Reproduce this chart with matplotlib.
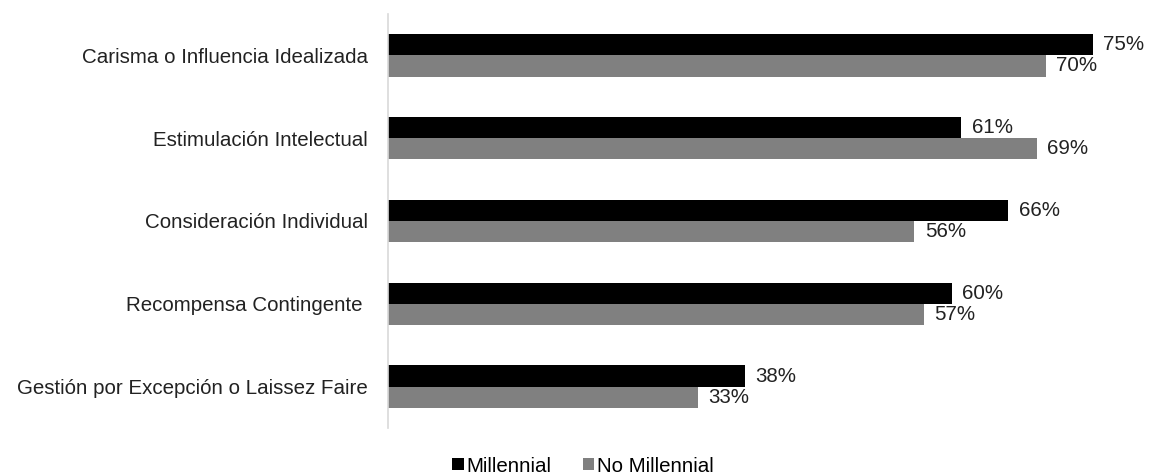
import matplotlib.pyplot as plt
import numpy as np

categories = ['Carisma o Influencia Idealizada', 'Estimulación Intelectual',
              'Consideración Individual', 'Recompensa Contingente ',
              'Gestión por Excepción o Laissez Faire']
millennial = [75, 61, 66, 60, 38]
no_millennial = [70, 69, 56, 57, 33]

plt.rcParams['font.family'] = ['Liberation Sans', 'DejaVu Sans']

fig = plt.figure(figsize=(11.56, 4.76), dpi=100)
ax = fig.add_axes([388 / 1156, 1 - 428 / 476, 1 - 388 / 1156, (428 - 14) / 476])

y = np.arange(len(categories))
h = 0.255
b1 = ax.barh(y - h / 2, millennial, height=h, color='#000000', label='Millennial')
b2 = ax.barh(y + h / 2, no_millennial, height=h, color='#808080', label='No Millennial')

for bars, vals in [(b1, millennial), (b2, no_millennial)]:
    for bar, v in zip(bars, vals):
        ax.text(bar.get_width() + 1.1, bar.get_y() + bar.get_height() / 2, f'{v}%',
                va='center', ha='left', fontsize=14.8, color='#222222')

ax.set_ylim(4.5, -0.5)
ax.set_xlim(0, 768 / 9.4)
ax.set_yticks(y)
ax.set_yticklabels(categories, fontsize=14.8, color='#222222')
ax.tick_params(axis='y', length=0, pad=14.5)
ax.set_xticks([])
for s in ['top', 'right', 'bottom']:
    ax.spines[s].set_visible(False)
ax.spines['left'].set_color('#d9d9d9')
ax.spines['left'].set_linewidth(1.2)

fig.legend(handles=[b1, b2], loc='center', bbox_to_anchor=(583 / 1156, 1 - 466 / 476),
           ncol=2, frameon=False, fontsize=14.8, handlelength=0.55, handleheight=0.55,
           handletextpad=0.15, columnspacing=1.5, borderpad=0)

fig.savefig('out.png', dpi=100)
